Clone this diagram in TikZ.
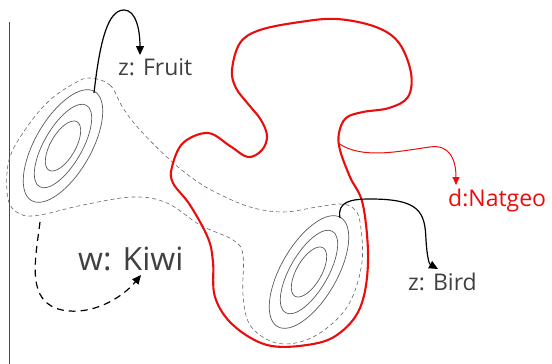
\documentclass[tikz,border=0pt]{standalone}
\usepackage{fontspec}
\setmainfont{Open Sans}
\usetikzlibrary{arrows.meta}
\definecolor{topicred}{RGB}{235,12,12}
\begin{document}
\begin{tikzpicture}[x=1pt,y=-1pt,
  contour/.style={draw=black!65, line width=0.7pt},
  region/.style={draw=black!60, line width=0.6pt, dash pattern=on 4pt off 3pt},
  lbl/.style={text=black!75, font=\fontsize{23}{27}\selectfont, inner sep=0pt, anchor=base west},
  biglbl/.style={lbl, font=\fontsize{32}{36}\selectfont},
  redlbl/.style={lbl, text=topicred},
  blackarrow/.style={draw=black, line width=1.2pt, -{Triangle[length=9pt,width=8pt]}},
  dasharrow/.style={blackarrow, dash pattern=on 7pt off 5pt},
  redarrow/.style={draw=topicred, line width=1pt, -{Triangle[length=8pt,width=7pt]}},
  topic/.style={draw=topicred, line width=2.1pt}
]
\useasboundingbox (0,0) rectangle (552,364);

% vertical axis line
\draw[black!70, line width=0.8pt] (9,22) -- (9,364);

% dashed region outline
\draw[region] plot[smooth cycle, tension=0.6] coordinates {
 (90,78) (110,85) (123,108) (140,130) (170,160) (195,180) (217,193) (250,207)
 (283,212) (317,207) (340,204) (353,208) (360,222) (362,262) (350,302) (327,328)
 (300,342) (273,342) (250,325) (243,295) (243,255) (233,240) (200,225) (167,203)
 (133,197) (83,205) (40,215) (20,214) (8,199) (9,160) (27,127) (50,100) (75,83)};

% contour groups
\foreach \cx/\cy in {63/146, 309/272}{
  \begin{scope}[shift={(\cx,\cy)}, rotate=60]
    \draw[contour] (0,0) ellipse [x radius=63pt, y radius=28pt];
    \draw[contour] (0,0) ellipse [x radius=47pt, y radius=19pt];
    \draw[contour] (0,0) ellipse [x radius=28pt, y radius=12.5pt];
  \end{scope}
}

% red topic boundary
\draw[topic] plot[smooth cycle, tension=0.6] coordinates {
 (337,19) (376,27) (399,43) (411,73) (408,97) (389,108) (363,112) (346,118)
 (339,133) (340,150) (350,177) (363,205) (368,262) (360,308) (337,335) (307,345)
 (267,345) (233,325) (215,297) (213,262) (208,238) (190,205) (173,183) (172,167)
 (183,143) (208,133) (230,146) (248,157) (262,150) (267,136) (261,120) (249,105)
 (236,88) (232,70) (240,43) (260,30) (300,22)};

% labels
\node[lbl] (fruit) at (118,75) {z: Fruit};
\node[lbl] (bird) at (408,290) {z: Bird};
\node[biglbl] (kiwi) at (78,270) {w: Kiwi};
\node[redlbl] (natgeo) at (448,206) {d:Natgeo};

% anchor coordinates
\coordinate (fruitstart) at (94,93);
\coordinate (fruittip) at (140,55);
\coordinate (birdstart) at (340,218);
\coordinate (birdtip) at (438,269);
\coordinate (kiwistart) at (40,222);
\coordinate (kiwitip) at (141,275);
\coordinate (natstart) at (338,143);
\coordinate (nattip) at (456,185);

% connectors
\draw[blackarrow] (fruitstart) .. controls (100,40) and (108,10) .. (124,10)
   .. controls (136,10) and (140,30) .. (fruittip);
\draw[blackarrow] (birdstart) .. controls (337,202) and (350,199) .. (370,199)
   .. controls (420,199) and (425,212) .. (426,240)
   .. controls (427,256) and (429,264) .. (birdtip);
\draw[dasharrow] (kiwistart) .. controls (35,262) and (26,302) .. (62,310)
   .. controls (92,316) and (122,298) .. (kiwitip);
\draw[redarrow] (natstart) .. controls (362,160) and (400,151) .. (430,147)
   .. controls (450,144) and (456,160) .. (nattip);
\end{tikzpicture}
\end{document}
